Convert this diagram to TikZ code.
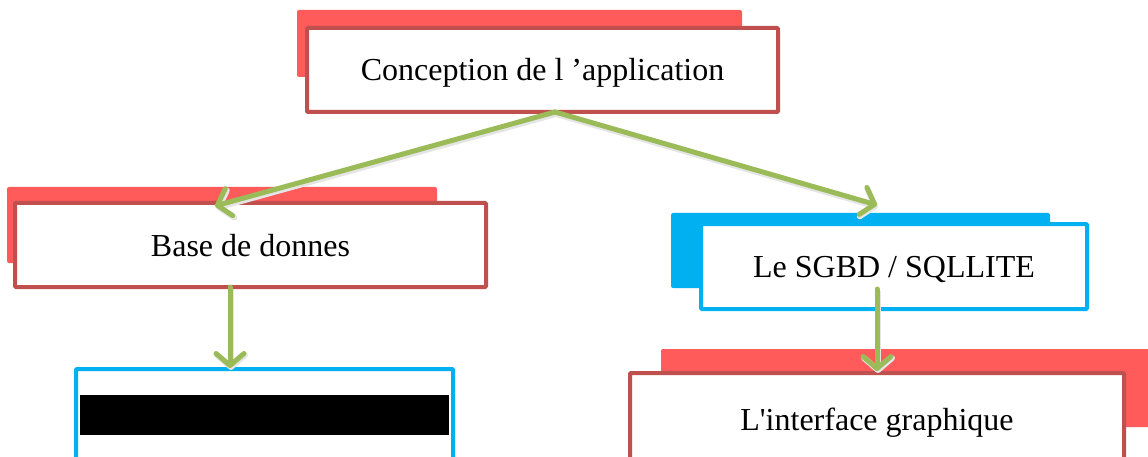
\documentclass[tikz,border=0pt]{standalone}
\usepackage{fontspec}
\setmainfont{Liberation Serif}[Ligatures=TeXOff]
\usetikzlibrary{arrows.meta}
\definecolor{bgred}{HTML}{FF5B5B}
\definecolor{brdred}{HTML}{C0504D}
\definecolor{skyblue}{HTML}{00B0F0}
\definecolor{arrgreen}{HTML}{9BBB59}
\tikzset{
  backbox/.style={rounded corners=2pt},
  frontbox/.style={draw, line width=4pt, fill=white, rounded corners=1pt, inner sep=0pt,
    text height=22pt, text depth=0pt, font=\fontsize{32}{36}\selectfont},
  conn/.style={arrgreen, line width=5pt, line cap=round, -{Straight Barb[length=12pt,width=28pt,round]},
    preaction={draw=black!10, line width=6pt, transform canvas={xshift=1pt,yshift=-2pt}}},
}
\begin{document}
\begin{tikzpicture}[x=1pt,y=-1pt]
\useasboundingbox (0,0) rectangle (1148,457);
% top
\fill[bgred,backbox] (297,10) rectangle (742,77);
\node[frontbox, draw=brdred, minimum width=471pt, minimum height=84pt] (top) at (542.5,70) {Conception de l ’application};
% base
\fill[bgred,backbox] (7,187) rectangle (437,263);
\node[frontbox, draw=brdred, minimum width=471pt, minimum height=84pt] (base) at (250.5,245) {Base de donnes};
% sgbd
\fill[skyblue,backbox] (671,213) rectangle (1050,288);
\node[frontbox, draw=skyblue, minimum width=386pt, minimum height=85pt] (sgbd) at (894,266.5) {Le SGBD / SQLLITE};
% bottom left
\node[frontbox, draw=skyblue, minimum width=377pt, minimum height=92pt] (bl) at (264.5,415) {};
\fill[black] (80,395) rectangle (449,435);
% bottom right
\fill[bgred,backbox] (661,349) rectangle (1160,427);
\node[frontbox, draw=brdred, minimum width=494pt, minimum height=92pt] (gui) at (877,419) {L'interface graphique};
% connectors
\coordinate (s0) at (555,112);
\coordinate (e1) at (215,206);
\coordinate (e2) at (877,205);
\coordinate (s3) at (230,287);
\coordinate (e3) at (230,368);
\coordinate (s4) at (877,289);
\coordinate (e4) at (877,371);
\draw[conn] (s0) -- (e1);
\draw[conn] (s0) -- (e2);
\draw[conn] (s3) -- (e3);
\draw[conn] (s4) -- (e4);
\end{tikzpicture}
\end{document}
